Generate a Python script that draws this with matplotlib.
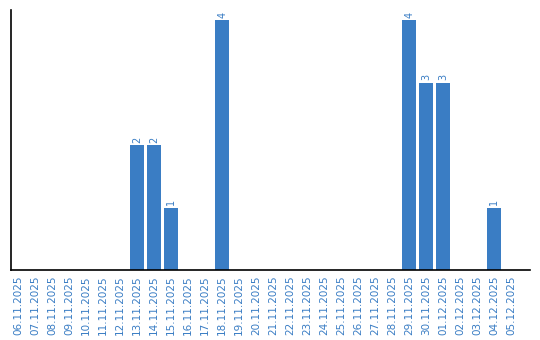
import matplotlib
matplotlib.use("Agg")
import matplotlib.pyplot as plt

dates = ["06.11.2025", "07.11.2025", "08.11.2025", "09.11.2025", "10.11.2025",
         "11.11.2025", "12.11.2025", "13.11.2025", "14.11.2025", "15.11.2025",
         "16.11.2025", "17.11.2025", "18.11.2025", "19.11.2025", "20.11.2025",
         "21.11.2025", "22.11.2025", "23.11.2025", "24.11.2025", "25.11.2025",
         "26.11.2025", "27.11.2025", "28.11.2025", "29.11.2025", "30.11.2025",
         "01.12.2025", "02.12.2025", "03.12.2025", "04.12.2025", "05.12.2025"]
values = [0, 0, 0, 0, 0, 0, 0, 2, 2, 1,
          0, 0, 4, 0, 0, 0, 0, 0, 0, 0,
          0, 0, 0, 4, 3, 3, 0, 0, 1, 0]

color = "#3a7dc4"

fig = plt.figure(figsize=(5.4, 3.4), dpi=100)
ax = fig.add_axes([11/540, 70/340, 519/540, 260/340])
x = list(range(len(dates)))
ax.bar(x, values, width=0.82, color=color)
for xi, v in zip(x, values):
    if v > 0:
        ax.text(xi, v + 0.04, str(v), rotation=90, ha="center", va="bottom",
                fontsize=7, color=color)
ax.set_xlim(-0.41, 30.1)
ax.set_ylim(0, 4.16)
ax.set_xticks(x)
ax.set_xticklabels(dates, rotation=90, fontsize=7.5, color=color)
ax.tick_params(axis="x", length=0, pad=4)
ax.set_yticks([])
ax.spines["top"].set_visible(False)
ax.spines["right"].set_visible(False)
ax.spines["left"].set_linewidth(1.2)
ax.spines["bottom"].set_linewidth(1.2)
fig.savefig("out.png", dpi=100)
